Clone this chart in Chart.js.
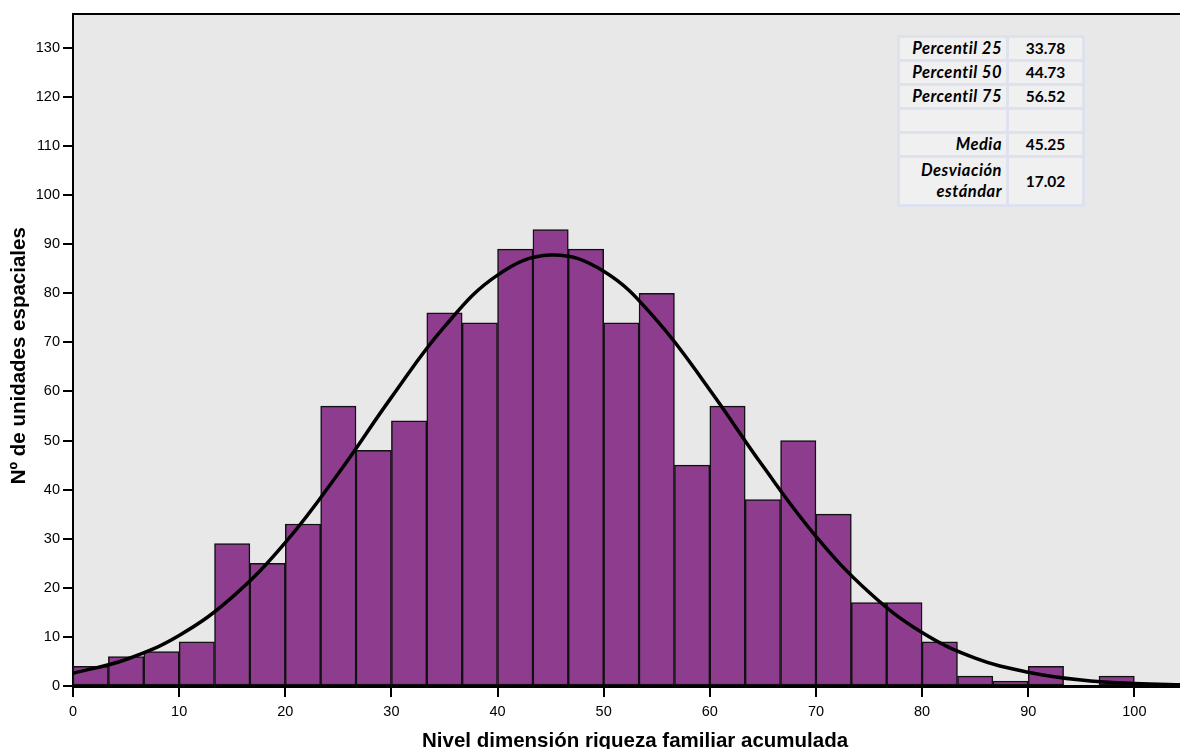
<!DOCTYPE html>
<html>
<head>
<meta charset="utf-8">
<script src="https://cdn.jsdelivr.net/npm/chart.js@4"></script>
<style>
  html, body { margin:0; padding:0; background:#fff; }
  #wrap { position:relative; width:1180px; height:749px; }
  #stats {
    position:absolute; left:897px; top:35px; width:188px;
    border-collapse:collapse; background:#f0f0f0;
    font-family:Lato, "Open Sans", sans-serif; font-weight:700; font-size:15.5px; color:#000;
  }
  #stats td { border:3px solid #dde2ee; padding:0 4px; line-height:21px; }
  #stats td.lab { text-align:right; font-style:italic; width:98px; font-size:16.5px; letter-spacing:0.5px; }
  #stats td.val { text-align:center; }
</style>
</head>
<body>
<div id="wrap">
  <canvas id="chart" width="1180" height="749"></canvas>
  <table id="stats"></table>
</div>
<script>
/* ---- datos ---- */
const binMin = 0, binMax = 100;
const counts = [4, 6, 7, 9, 29, 25, 33, 57, 48, 54, 76, 74, 89, 93, 89,
                74, 80, 45, 57, 38, 50, 35, 17, 17, 9, 2, 1, 4, 0, 2];

/* curva normal ajustada (leída cada 5 unidades) */
const curveX = [0, 5, 10, 15, 20, 25, 30, 35, 40, 45, 50, 55, 60, 65, 70, 75, 80, 85, 90, 95, 100, 105];
const curveY = [2.6, 5.4, 10.3, 18.1, 29.2, 43.3, 58.8, 73.2, 83.7, 87.8, 84.5, 74.5,
                60.3, 44.8, 30.5, 19.1, 10.9, 5.7, 2.8, 1.2, 0.5, 0.2];

const statLabels = ['Percentil 25', 'Percentil 50', 'Percentil 75', '', 'Media', 'Desviación<br>estándar'];
const statValues = ['33.78', '44.73', '56.52', '', '45.25', '17.02'];

const xTicks = [0, 10, 20, 30, 40, 50, 60, 70, 80, 90, 100];
const yTicks = [0, 10, 20, 30, 40, 50, 60, 70, 80, 90, 100, 110, 120, 130];

/* ---- tabla de estadísticos ---- */
const rowH = [21, 21, 21, 21, 21, 46];
document.getElementById('stats').innerHTML = statLabels.map((l, i) =>
  `<tr><td class="lab" style="height:${rowH[i]}px">${l}</td><td class="val">${statValues[i]}</td></tr>`).join('');

/* ---- histograma ---- */
const w = (binMax - binMin) / counts.length;
const barData = counts.map((c, i) => ({ x: binMin + (i + 0.5) * w, y: c }));
const lineData = curveX.map((x, i) => ({ x, y: curveY[i] }));

const plotBg = {
  id: 'plotBg',
  beforeDraw(c) {
    const a = c.chartArea, ctx = c.ctx;
    ctx.save();
    ctx.fillStyle = '#e8e8e8';
    ctx.fillRect(a.left, a.top, a.right - a.left, a.bottom - a.top);
    ctx.restore();
  },
  afterDraw(c) {
    const a = c.chartArea, ctx = c.ctx;
    ctx.save();
    ctx.strokeStyle = '#000'; ctx.lineWidth = 2;
    ctx.beginPath(); ctx.moveTo(a.left, a.top); ctx.lineTo(a.right, a.top); ctx.stroke();
    ctx.restore();
  }
};

const tickFont = { family: 'Liberation Sans, Arial, sans-serif', size: 14.5 };
const titleFont = { family: 'Liberation Sans, Arial, sans-serif', size: 20.5, weight: 'bold' };

new Chart(document.getElementById('chart'), {
  data: {
    datasets: [
      { type: 'line', data: lineData, borderColor: '#000', borderWidth: 3.5,
        pointRadius: 0, tension: 0.4, fill: false, order: 0 },
      { type: 'bar', data: barData, backgroundColor: '#8e3d8e', borderColor: '#111',
        borderWidth: 1.5, borderSkipped: false, barPercentage: 1, categoryPercentage: 1, order: 1 }
    ]
  },
  options: {
    responsive: false, animation: false,
    layout: { padding: { top: 14, left: 0, right: 0, bottom: 0 } },
    plugins: { legend: { display: false }, tooltip: { enabled: false } },
    scales: {
      x: {
        type: 'linear', min: 0, max: 104.3, offset: false,
        afterBuildTicks: s => { s.ticks = xTicks.map(v => ({ value: v })); },
        afterFit: s => { s.height = 63; },
        ticks: { color: '#000', font: tickFont, padding: 6, maxRotation: 0 },
        grid: { offset: false, drawOnChartArea: false, drawTicks: true, tickLength: 11, color: '#000', lineWidth: 2 },
        border: { display: true, color: '#000', width: 3 },
        title: { display: true, text: '\u00a0\u00a0\u00a0Nivel dimensión riqueza familiar acumulada',
                 color: '#000', font: titleFont, padding: { top: 0, bottom: -5 } }
      },
      y: {
        min: 0, max: 136.9,
        afterBuildTicks: s => { s.ticks = yTicks.map(v => ({ value: v })); },
        afterFit: s => { s.width = 73; },
        ticks: { color: '#000', font: tickFont, padding: 3 },
        grid: { drawOnChartArea: false, drawTicks: true, tickLength: 10, color: '#000', lineWidth: 2 },
        border: { display: true, color: '#000', width: 2 },
        title: { display: true, text: 'Nº de unidades espaciales\u00a0\u00a0',
                 color: '#000', font: titleFont, padding: { top: 7, bottom: 0 } }
      }
    }
  },
  plugins: [plotBg]
});
</script>
</body>
</html>
